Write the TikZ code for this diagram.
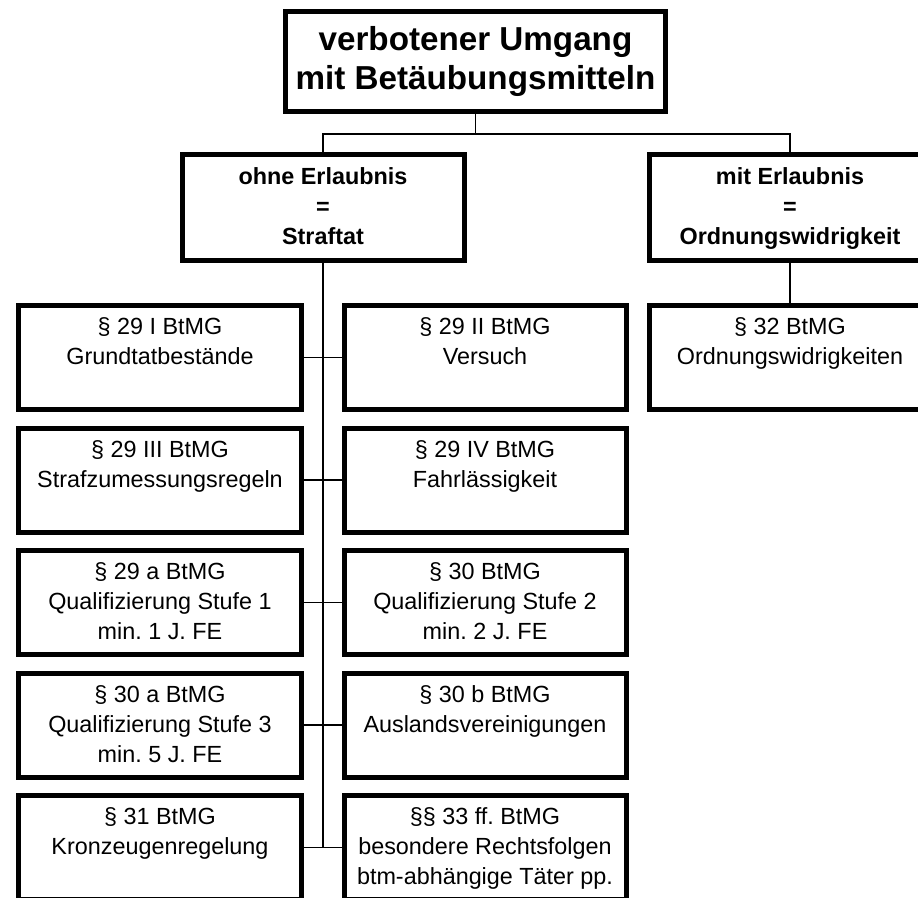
\documentclass[tikz,border=0pt]{standalone}
\usepackage{fontspec}
\setmainfont{Liberation Sans}
\usepackage{tikz}
\usetikzlibrary{positioning}
\frenchspacing

\newcommand{\absatz}[1]{\parbox[c][15.8mm][t]{54mm}{\centering #1}}

\begin{document}
\begin{tikzpicture}[x=0.2mm,y=-0.2mm,
  kasten/.style={draw,line width=1mm,minimum width=56.4mm,minimum height=20.8mm,inner xsep=1.2mm,inner ysep=2.5mm,font=\fontsize{13.3pt}{17pt}\selectfont},
  zweig/.style={kasten,minimum height=21.2mm,font=\fontsize{13.3pt}{17pt}\selectfont\bfseries},
  titel/.style={draw,line width=1mm,minimum width=76mm,minimum height=20mm,inner sep=0pt,align=center,font=\fontsize{18.9pt}{22.7pt}\selectfont\bfseries},
  linie/.style={line width=0.3mm}]
  \clip (0,0) rectangle (918,898);
  %top
  \node[titel] (umgang) at (475.5,61.5) {verbotener Umgang\\mit Betäubungsmitteln};
  \node[zweig] (ohne) at (323,207.5) {\absatz{ohne Erlaubnis\\=\\Straftat}};
  \node[zweig] (mit) at (790,207.5) {\absatz{mit Erlaubnis\\=\\Ordnungswidrigkeit}};
  %left
  \node[kasten] (p29I) at (160,357.5) {\absatz{§ 29 I BtMG\\Grundtatbestände}};
  \node[kasten,right=7.6mm of p29I] (p29II) {\absatz{§ 29 II BtMG\\Versuch}};
  \node[kasten,below=2.7mm of p29I] (p29III) {\absatz{§ 29 III BtMG\\Strafzumessungsregeln}};
  \node[kasten,right=7.6mm of p29III] (p29IV) {\absatz{§ 29 IV BtMG\\Fahrlässigkeit}};
  \node[kasten,below=2.7mm of p29III] (p29a) {\absatz{§ 29 a BtMG\\Qualifizierung Stufe 1\\min. 1 J. FE}};
  \node[kasten,right=7.6mm of p29a] (p30) {\absatz{§ 30 BtMG\\Qualifizierung Stufe 2\\min. 2 J. FE}};
  \node[kasten,below=2.7mm of p29a] (p30a) {\absatz{§ 30 a BtMG\\Qualifizierung Stufe 3\\min. 5 J. FE}};
  \node[kasten,right=7.6mm of p30a] (p30b) {\absatz{§ 30 b BtMG\\Auslandsvereinigungen}};
  \node[kasten,below=2.7mm of p30a] (p31) {\absatz{§ 31 BtMG\\Kronzeugenregelung}};
  \node[kasten,right=7.6mm of p31] (p33) {\absatz{§§ 33 ff. BtMG\\besondere Rechtsfolgen\\btm-abhängige Täter pp.}};
  %right
  \node[kasten] (p32) at (790,357.5) {\absatz{§ 32 BtMG\\Ordnungswidrigkeiten}};
  %lines
  \draw[linie] (umgang.south) -- ++(0,20) coordinate (gabel);
  \draw[linie] (ohne.north) |- (gabel) -| (mit.north);
  \draw[linie] (ohne.south) -- (ohne.south |- p31.east);
  \foreach \l/\r in {p29I/p29II,p29III/p29IV,p29a/p30,p30a/p30b,p31/p33}
    \draw[linie] (\l.east) -- (\r.west);
  \draw[linie] (mit.south) -- (p32.north);
\end{tikzpicture}
\end{document}
